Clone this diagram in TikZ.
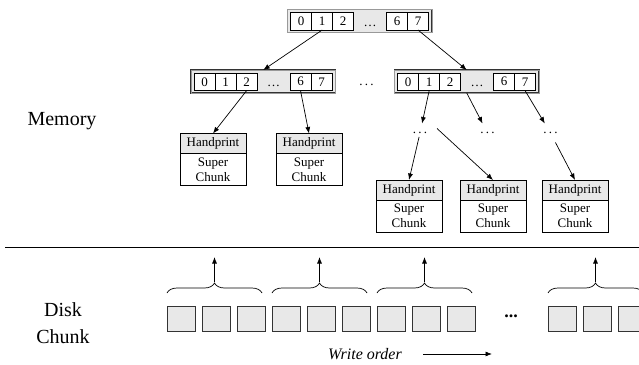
\documentclass[tikz,border=0pt]{standalone}
\usepackage{fontspec}
\setmainfont{Liberation Serif}
\usetikzlibrary{arrows.meta,decorations.pathreplacing,calc}

% one index array: outer gray frame, cells 0 1 2 ... 6 7
\newcommand{\memarr}[3]{%
  \node[arrframe] (#1) at (#2,#3) {};
  \node[arrcell] (#1-0) at ({#2+3.2},{#3+3}) {0};
  \node[arrcell] (#1-1) at ({#2+24.2},{#3+3}) {1};
  \node[arrcell] (#1-2) at ({#2+45.2},{#3+3}) {2};
  \node[arrdots] (#1-d) at ({#2+82.5},{#3+16.5}) {\ldots};
  \node[arrcell] (#1-6) at ({#2+99},{#3+3}) {6};
  \node[arrcell] (#1-7) at ({#2+120},{#3+3}) {7};
}

% one handprint / super chunk pair
\newcommand{\hpbox}[3]{%
  \node[hphead] (#1) at (#2,#3) {Handprint};
  \node[hpbody] (#1-sc) at (#1.south) {Super\\Chunk};
}

\begin{document}
\begin{tikzpicture}[x=1pt,y=-1pt,
  every node/.style={inner sep=0pt,outer sep=0pt},
  arrframe/.style={draw=black!80,line width=0.55pt,double=black!40,
    double distance=0.6pt,fill=black!9,
    minimum width=144.5pt,minimum height=23pt,anchor=north west},
  arrcell/.style={draw=black,line width=0.7pt,fill=white,
    minimum width=21pt,minimum height=17.5pt,anchor=north west,
    font=\fontsize{13}{13}\selectfont},
  arrdots/.style={anchor=base,font=\fontsize{13}{13}\selectfont},
  hphead/.style={draw=black,line width=0.7pt,fill=black!9,
    minimum width=66pt,minimum height=20pt,anchor=north,
    font=\fontsize{13}{13}\selectfont},
  hpbody/.style={draw=black,line width=0.7pt,fill=white,
    minimum width=66pt,minimum height=32pt,anchor=north,align=center,
    font=\fontsize{13}{15}\selectfont},
  rowdots/.style={minimum width=34pt,minimum height=19pt,
    font=\fontsize{13}{13}\selectfont},
  disk/.style={draw=black!80,line width=0.8pt,fill=black!9,
    minimum width=28pt,minimum height=25pt,anchor=north west},
  ptr/.style={-{Latex[length=6.5pt,width=5pt]},line width=0.7pt},
  grp/.style={decorate,decoration={brace,amplitude=10pt},line width=0.7pt},
  label/.style={font=\fontsize{20}{27}\selectfont,align=center}
]
\clip (0,0) rectangle (639,364);

% ---- memory side ----
\node[label] (mem) at (62,121) {Memory};

\memarr{top}{287.5}{9.5}
\memarr{left}{191}{70}
\memarr{right}{394.5}{70}
\node[arrdots,anchor=center] (mid) at (366.5,85) {.\,.\,.};

\draw[ptr] (top-1.south) -- (left.north);
\draw[ptr] (top-7.south) -- (right.north);

\hpbox{hpa}{213}{133.5}
\hpbox{hpb}{309}{133.5}
\draw[ptr] (left-2.south) -- (hpa.north);
\draw[ptr] (left-6.south) -- (hpb.north);

\node[rowdots] (d1) at (420,133) {.\,.\,.};
\node[rowdots] (d2) at (487.5,133) {.\,.\,.};
\node[rowdots] (d3) at (550.5,133) {.\,.\,.};
\draw[ptr] (right-1.south) -- (d1);
\draw[ptr] (right.south) -- (d2);
\draw[ptr] (right-7.south) -- (d3);

\hpbox{hpc}{409}{180}
\hpbox{hpd}{493}{180}
\hpbox{hpe}{575}{180}
\draw[ptr,shorten <=4pt] (d1.center) -- (hpc.north);
\draw[ptr] ([yshift=-5pt]d1.north east) -- (hpd.north);
\draw[ptr] (d3) -- (hpe.north);

% ---- separator ----
\coordinate (sepL) at (5,247);
\coordinate (sepR) at (639,247);
\draw[line width=0.8pt] (sepL) -- (sepR);

% ---- disk side ----
\node[label] (disk) at (63,323) {Disk\\Chunk};

\foreach \i/\x in {1/167,2/202,3/237,4/272,5/307,6/342,7/377,8/412,9/447,10/548,11/583,12/618}
  \node[disk] (dk\i) at (\x,306) {};
\node[font=\bfseries\fontsize{18}{18}\selectfont] (ddots) at (511,316) {...};

% each group of three chunks is gathered by a brace
\foreach \g/\a/\b in {1/1/3,2/4/6,3/7/9,4/10/12}{
  \coordinate (bl\g) at ([yshift=13pt]dk\a.north west);
  \coordinate (br\g) at ([yshift=13pt,xshift=-3pt]dk\b.north east);
  \draw[grp] (bl\g) -- (br\g);
  \coordinate (bt\g) at ($(bl\g)!0.5!(br\g)+(0,-11)$);
  \coordinate (bu\g) at ($(bt\g)+(0,-25)$);
  \draw[ptr] (bt\g) -- (bu\g);
}

% write direction
\node[font=\itshape\fontsize{16}{16}\selectfont] (wo) at (365,354) {Write order};
\coordinate (woA) at (423,354);
\coordinate (woB) at (492,354);
\draw[ptr] (woA) -- (woB);
\end{tikzpicture}
\end{document}
